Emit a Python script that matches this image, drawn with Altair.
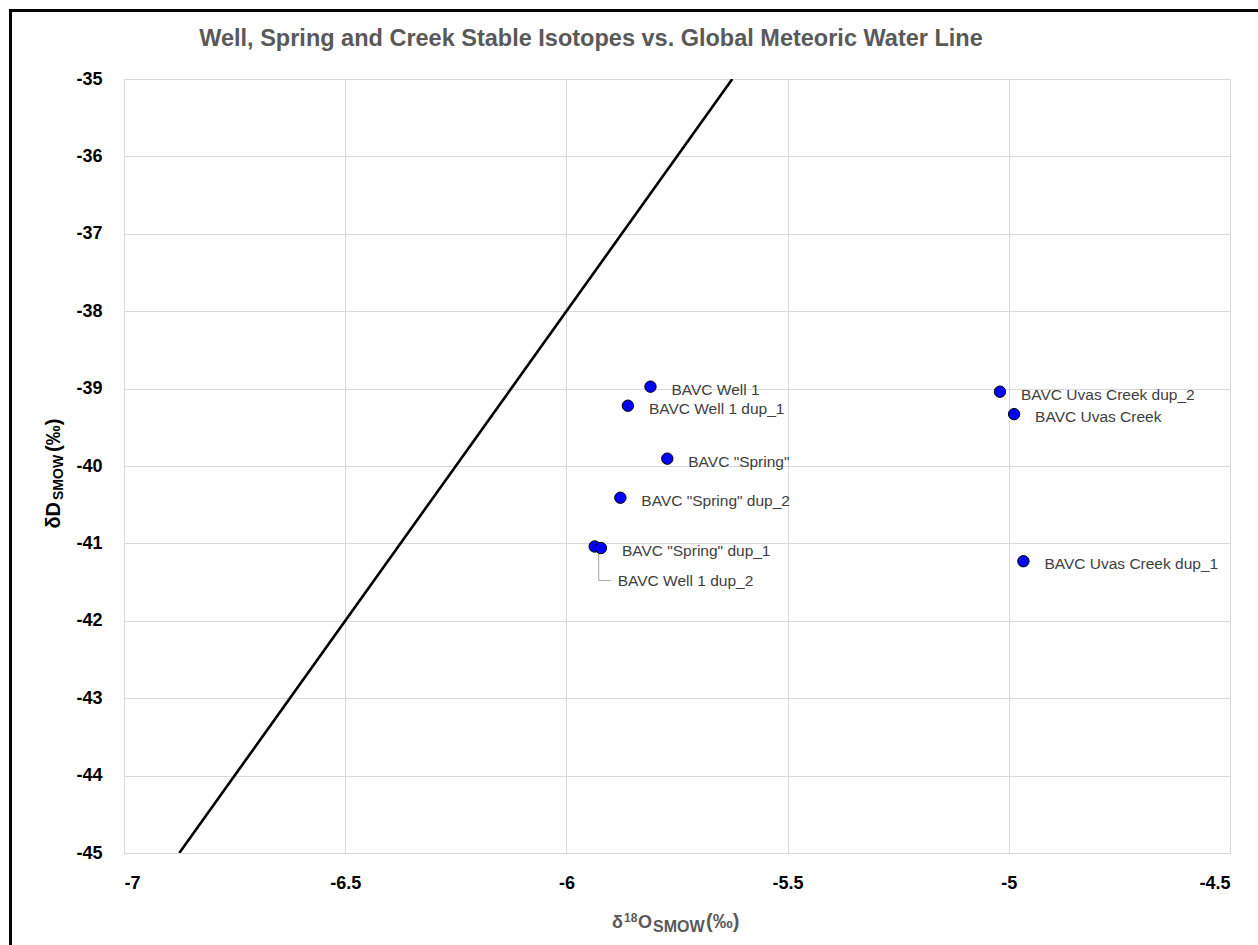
import altair as alt
import pandas as pd

# ---- data ----
names = [
    'BAVC Well 1',
    'BAVC Well 1 dup_1',
    'BAVC Well 1 dup_2',
    'BAVC "Spring"',
    'BAVC "Spring" dup_1',
    'BAVC "Spring" dup_2',
    'BAVC Uvas Creek',
    'BAVC Uvas Creek dup_1',
    'BAVC Uvas Creek dup_2',
]
d18O = [-5.810, -5.861, -5.936, -5.772, -5.922, -5.878, -4.988, -4.967, -5.020]
dD = [-38.975, -39.221, -41.04, -39.905, -41.06, -40.41, -39.33, -41.23, -39.04]

gmwl_x = [-6.875, -5.625]
gmwl_y = [-45.0, -35.0]

x_ticks = [-7, -6.5, -6, -5.5, -5, -4.5]
y_ticks = [-35, -36, -37, -38, -39, -40, -41, -42, -43, -44, -45]

title_text = "Well, Spring and Creek Stable Isotopes vs. Global Meteoric Water Line"

# ---- layout ----
W, H = 1106, 774
PL, PT = 124, 79
FONT = "Liberation Sans"

pts = pd.DataFrame({"name": names, "x": d18O, "y": dD})
line_df = pd.DataFrame({"x": gmwl_x, "y": gmwl_y})
one = pd.DataFrame({"k": [0]})

xs = alt.Scale(domain=[-7, -4.5], nice=False, zero=False)
ys = alt.Scale(domain=[-45, -35], nice=False, zero=False)

xaxis = alt.Axis(values=x_ticks, title=None, ticks=False, domain=False,
                 grid=True, gridColor="#d9d9d9", gridWidth=1,
                 labelFont=FONT, labelFontSize=18, labelFontWeight="bold",
                 labelColor="#000000", labelPadding=30, labelBaseline="middle",
                 labelExpr="datum.value + ''")
yaxis = alt.Axis(values=y_ticks, title=None, ticks=False, domain=False,
                 grid=True, gridColor="#d9d9d9", gridWidth=1,
                 labelFont=FONT, labelFontSize=18, labelFontWeight="bold",
                 labelColor="#000000", labelPadding=22,
                 labelExpr="datum.value + ''")

base = alt.Chart(pts)

gmwl = alt.Chart(line_df).mark_line(color="#000000", strokeWidth=2.6, clip=True).encode(
    x=alt.X("x:Q", scale=xs, axis=xaxis),
    y=alt.Y("y:Q", scale=ys, axis=yaxis),
)

points = base.mark_point(shape="circle", filled=True, fill="#0000ff",
                         stroke="#000000", strokeWidth=1, size=130, opacity=1).encode(
    x=alt.X("x:Q", scale=xs),
    y=alt.Y("y:Q", scale=ys),
)

labels = base.transform_filter(alt.datum.name != 'BAVC Well 1 dup_2').mark_text(
    align="left", baseline="middle", dx=21, dy=3,
    font=FONT, fontSize=15.5, color="#404040").encode(
    x=alt.X("x:Q", scale=xs), y=alt.Y("y:Q", scale=ys), text="name:N")

special = base.transform_filter(alt.datum.name == 'BAVC Well 1 dup_2')
special_label = special.mark_text(
    align="left", baseline="middle", dx=23, dy=35,
    font=FONT, fontSize=15.5, color="#404040").encode(
    x=alt.X("x:Q", scale=xs), y=alt.Y("y:Q", scale=ys), text="name:N")

# leader line (offsets in data units: ~442 px per unit x, ~77 px per unit y)
leader_v = special.transform_calculate(
    lx="datum.x + 0.009", ly1="datum.y - 0.08", ly2="datum.y - 0.44"
).mark_rule(color="#a6a6a6", strokeWidth=1).encode(
    x=alt.X("lx:Q", scale=xs), y=alt.Y("ly1:Q", scale=ys), y2="ly2:Q")
leader_h = special.transform_calculate(
    lx1="datum.x + 0.009", lx2="datum.x + 0.036", ly="datum.y - 0.44"
).mark_rule(color="#a6a6a6", strokeWidth=1).encode(
    x=alt.X("lx1:Q", scale=xs), x2="lx2:Q", y=alt.Y("ly:Q", scale=ys))


def txt(text, x, y, size, color="#000000", weight="bold", align="left",
        baseline="alphabetic", angle=0):
    kw = dict(align=align, baseline=baseline, font=FONT, fontSize=size,
              fontWeight=weight, color=color)
    if angle:
        kw["angle"] = angle
    return alt.Chart(one).mark_text(**kw).encode(
        x=alt.value(x - PL), y=alt.value(y - PT), text=alt.value(text))


title = txt(title_text, 591, 46, 23.5, color="#595959", align="center")

# x-axis title: δ18O_SMOW(‰)
xt = [
    txt("δ", 612, 928, 18, color="#595959"),
    txt("18", 624, 922, 12, color="#595959"),
    txt("O", 638, 928, 18, color="#595959"),
    txt("SMOW", 653, 932, 16, color="#595959"),
    txt("(‰)", 706, 928, 20, color="#595959"),
]
# y-axis title: δD_SMOW (‰), rotated
yt = [
    txt("δD", 60, 502, 20, align="right", angle=270),
    txt("SMOW", 63, 500, 14, align="left", angle=270),
    txt("(‰)", 60, 452, 20, align="left", angle=270),
]

# outer frame (left and top edges)
frame_v = alt.Chart(one).mark_rule(color="#000000", strokeWidth=3).encode(
    x=alt.value(10.5 - PL), x2=alt.value(10.5 - PL),
    y=alt.value(9 - PT), y2=alt.value(945 - PT))
frame_h = alt.Chart(one).mark_rule(color="#000000", strokeWidth=3).encode(
    x=alt.value(9 - PL), x2=alt.value(1258 - PL),
    y=alt.value(10.5 - PT), y2=alt.value(10.5 - PT))

chart = alt.layer(
    gmwl, leader_v, leader_h, points, labels, special_label,
    title, *xt, *yt, frame_v, frame_h
).properties(
    width=W, height=H,
    autosize=alt.AutoSizeParams(type="none"),
    padding={"left": PL, "top": PT, "right": 1258 - PL - W, "bottom": 945 - PT - H},
    background="#ffffff",
).configure_view(stroke="#d9d9d9", strokeWidth=1)

chart.save("out.html", embed_options={"renderer": "svg", "actions": False})
